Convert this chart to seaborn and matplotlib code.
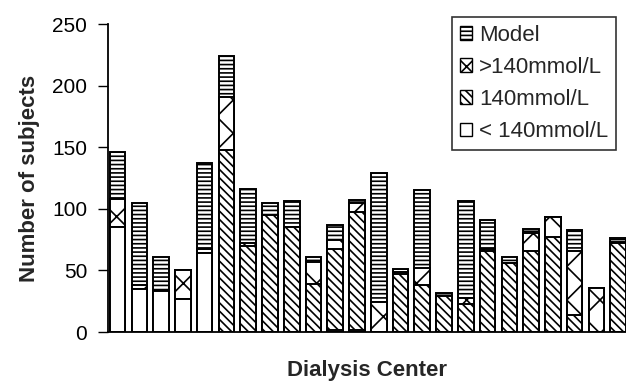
import pandas as pd
import matplotlib
matplotlib.use("Agg")
import matplotlib.pyplot as plt
import seaborn as sns
from matplotlib.patches import Patch

sns.set_theme(style="ticks")
plt.rcParams['font.family'] = ['Liberation Sans', 'DejaVu Sans']
plt.rcParams['hatch.color'] = 'black'
plt.rcParams['hatch.linewidth'] = 1.2

# values, one entry per dialysis center
centers = [f"C{i}" for i in range(1, 25)]
below_140 = [85, 35, 33, 27, 64, 0, 0, 0, 0, 0, 2, 2, 0, 0, 0, 0, 0, 0, 0, 0, 0, 0, 0, 0]
equal_140 = [0, 0, 0, 0, 0, 148, 70, 95, 85, 39, 65, 95, 0, 47, 38, 29, 23, 66, 56, 66, 77, 14, 0, 72]
above_140 = [23, 3, 0, 23, 3, 43, 2, 0, 0, 18, 8, 8, 24, 2, 14, 0, 5, 1, 0, 14, 16, 52, 36, 1]
model = [38, 67, 28, 0, 70, 33, 44, 10, 21, 4, 12, 2, 105, 2, 63, 3, 78, 24, 5, 4, 0, 17, 0, 3]

df = pd.DataFrame({"center": centers, "below": below_140, "equal": equal_140,
                   "above": above_140, "model": model})
df["c1"] = df["below"]
df["c2"] = df["c1"] + df["equal"]
df["c3"] = df["c2"] + df["above"]
df["c4"] = df["c3"] + df["model"]

fig = plt.figure(figsize=(6.26, 3.84), dpi=100)
ax = fig.add_axes([108 / 626, 1 - 332 / 384, 1 - 108 / 626, (332 - 24) / 384])

# draw cumulative totals from the top down, each layer covering the one before
layers = [("c4", "----", "Model"), ("c3", "x", ">140mmol/L"),
          ("c2", "\\\\\\\\", "140mmol/L"), ("c1", "", "< 140mmol/L")]
for col, hatch, label in layers:
    sns.barplot(data=df, x="center", y=col, order=centers, color="white",
                saturation=1, edgecolor="black", linewidth=1.4, hatch=hatch,
                width=0.72, errorbar=None, ax=ax)

ax.set_xlim(-0.44, 23.36)
ax.set_ylim(0, 250)
ax.set_yticks([0, 50, 100, 150, 200, 250])
ax.set_xticks([])
ax.tick_params(axis="y", labelsize=15, length=7, width=1, pad=8,
               color="black", labelcolor="black")
ax.set_ylabel("Number of subjects", fontsize=16, fontweight="bold", labelpad=9)
ax.set_xlabel("Dialysis Center", fontsize=16, fontweight="bold", labelpad=20)
for side in ["top", "right"]:
    ax.spines[side].set_visible(False)
for side in ["left", "bottom"]:
    ax.spines[side].set_color("black")
    ax.spines[side].set_linewidth(1.3)

handles = [Patch(facecolor="white", edgecolor="black", hatch=h, label=l) for _, h, l in layers]
leg = ax.legend(handles=handles, loc="upper right", bbox_to_anchor=(616 / 626, 1 - 17 / 384),
                bbox_transform=fig.transFigure, borderaxespad=0, fontsize=16, frameon=True,
                fancybox=False, edgecolor="black", handlelength=0.55, handleheight=0.55,
                handletextpad=0.3, labelspacing=0.5, borderpad=0.35)
leg.get_frame().set_linewidth(1.2)

fig.savefig("out.png", dpi=100)
